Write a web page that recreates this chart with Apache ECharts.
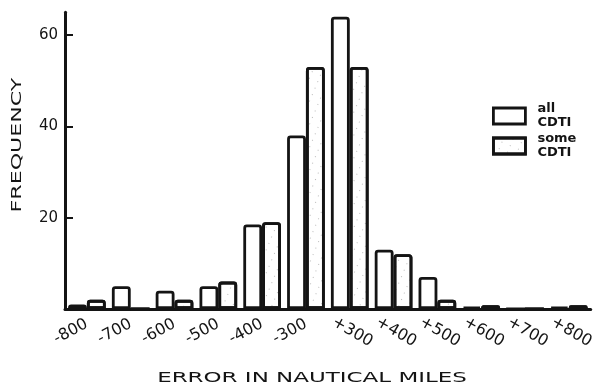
<!DOCTYPE html>
<html>
<head>
<meta charset="utf-8">
<script src="https://cdn.jsdelivr.net/npm/echarts@6/dist/echarts.min.js"></script>
<style>
html,body{margin:0;padding:0;background:#fff;}
#chart{width:597px;height:387px;}
</style>
</head>
<body>
<div id="chart"></div>
<script>
// Bins (pairs of bars), labelled as in the original figure
var binLabels = ['-800','-700','-600','-500','-400','-300','+300','+400','+500','+600','+700','+800'];
// Left bar of each pair: "all CDTI"
var allCDTI  = [1, 5, 4, 5, 18.5, 38, 64, 13, 7, 0.5, 0, 0.5];
// Right bar of each pair: "some CDTI"
var someCDTI = [2, 0, 2, 6, 19, 53, 53, 12, 2, 0.8, 0, 0.8];
var yTicks = [20, 40, 60];
var yTitle = 'FREQUENCY';
var xTitle = 'ERROR IN NAUTICAL MILES';
var seriesNames = ['all\nCDTI', 'some\nCDTI'];

var FONT = 'DejaVu Sans';
var INK = '#141414';

// helper axis with 4 slots per bin, used only to place the right-hand labels
var slotData = [], slotLabel = {};
binLabels.forEach(function (b, k) {
  for (var j = 0; j < 4; j++) {
    var id = 's' + (4 * k + j);
    slotData.push(id);
    slotLabel[id] = (j === 0 && b.charAt(0) === '+') ? b : '';
  }
});

var dotted = {symbol: 'rect', symbolSize: 1, dashArrayX: [1, 8], dashArrayY: [1, 6], rotation: 0.4, color: 'rgba(30,30,30,0.3)'};

var chart = echarts.init(document.getElementById('chart'), null, {renderer: 'canvas'});
chart.setOption({
  animation: false,
  backgroundColor: '#fff',
  grid: {left: 65, right: 3, top: 12.2, bottom: 78, containLabel: false},
  legend: {
    orient: 'vertical',
    left: 492, top: 102, padding: 0,
    itemWidth: 32, itemHeight: 16, itemGap: 2,
    icon: 'rect',
    data: seriesNames,
    textStyle: {fontFamily: FONT, fontWeight: 'bold', fontSize: 13, lineHeight: 14, color: INK, padding: [0, 0, 0, 7]},
    itemStyle: {borderColor: INK, borderWidth: 2.8}
  },
  xAxis: [{
    type: 'category',
    data: binLabels,
    position: 'bottom',
    axisLine: {lineStyle: {color: INK, width: 3}},
    axisTick: {show: false},
    axisLabel: {
      interval: 0, rotate: 28, margin: 14,
      fontFamily: FONT, fontSize: 16, color: INK,
      formatter: function (v) { return v.charAt(0) === '-' ? v : ''; }
    },
    splitLine: {show: false}
  }, {
    type: 'category',
    data: slotData,
    position: 'bottom',
    axisLine: {show: false},
    axisTick: {show: false},
    axisLabel: {
      interval: 0, rotate: -30, margin: 12,
      fontFamily: FONT, fontSize: 16, color: INK,
      formatter: function (v) { return slotLabel[v]; }
    },
    splitLine: {show: false}
  }],
  yAxis: {
    type: 'value',
    min: 0, max: 65,
    axisLine: {show: true, lineStyle: {color: INK, width: 3}},
    axisTick: {show: true, inside: true, length: 8, lineStyle: {color: INK, width: 2}, customValues: yTicks},
    axisLabel: {margin: 7, fontFamily: FONT, fontSize: 15, color: INK, customValues: yTicks},
    splitLine: {show: false}
  },
  series: [{
    name: seriesNames[0],
    type: 'bar',
    xAxisIndex: 0,
    data: allCDTI,
    barGap: '0%',
    barCategoryGap: '14%',
    itemStyle: {color: '#fff', borderColor: INK, borderWidth: 2.8, borderRadius: [2, 2, 0, 0]}
  }, {
    name: seriesNames[1],
    type: 'bar',
    xAxisIndex: 0,
    data: someCDTI,
    barGap: '0%',
    barCategoryGap: '14%',
    itemStyle: {
      color: '#fff', borderColor: INK, borderWidth: 2.8, borderRadius: [2, 2, 0, 0],
      decal: dotted
    }
  }],
  graphic: [{
    type: 'text',
    x: 312, y: 378,
    scaleX: 1.64,
    style: {text: xTitle, font: '14px "' + FONT + '"', fill: INK, align: 'center', verticalAlign: 'middle'}
  }, {
    type: 'text',
    x: 17.5, y: 145,
    rotation: Math.PI / 2,
    scaleX: 1.58,
    style: {text: yTitle, font: '14px "' + FONT + '"', fill: INK, align: 'center', verticalAlign: 'middle'}
  }]
});
</script>
</body>
</html>
